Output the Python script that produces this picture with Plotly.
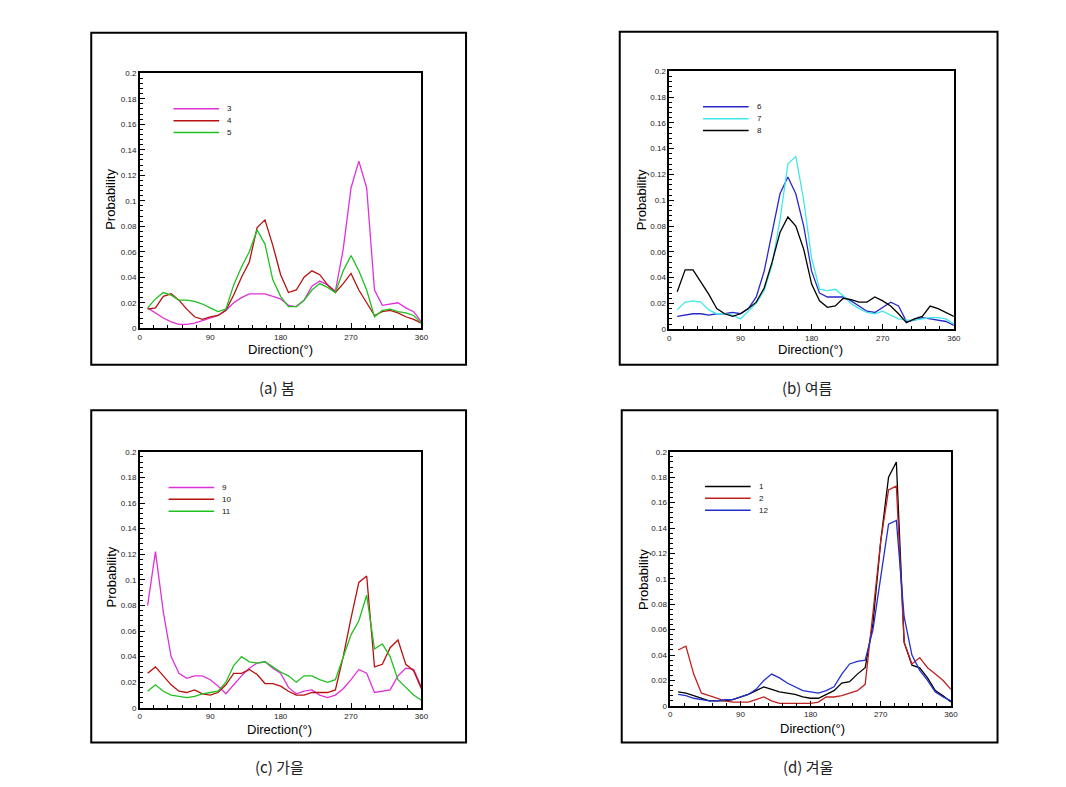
import plotly.graph_objects as go

# ---------------- data ----------------
direction = [10, 20, 30, 40, 50, 60, 70, 80, 90, 100, 110, 120, 130, 140, 150, 160, 170, 180,
             190, 200, 210, 220, 230, 240, 250, 260, 270, 280, 290, 300, 310, 320, 330, 340, 350, 360]

# (a) spring
m3 = [0.016, 0.012, 0.008, 0.005, 0.003, 0.003, 0.004, 0.006, 0.008, 0.010, 0.014, 0.020, 0.024, 0.027, 0.027, 0.027, 0.025, 0.023,
      0.018, 0.017, 0.022, 0.033, 0.037, 0.034, 0.029, 0.062, 0.110, 0.131, 0.110, 0.030, 0.018, 0.019, 0.020, 0.016, 0.013, 0.005]
m4 = [0.015, 0.016, 0.025, 0.027, 0.022, 0.015, 0.009, 0.007, 0.009, 0.010, 0.014, 0.026, 0.040, 0.052, 0.079, 0.085, 0.065, 0.042,
      0.028, 0.030, 0.040, 0.045, 0.042, 0.034, 0.028, 0.035, 0.043, 0.030, 0.020, 0.010, 0.013, 0.014, 0.012, 0.009, 0.007, 0.004]
m5 = [0.016, 0.023, 0.028, 0.026, 0.022, 0.022, 0.021, 0.019, 0.016, 0.013, 0.015, 0.034, 0.048, 0.060, 0.077, 0.066, 0.038, 0.025,
      0.017, 0.017, 0.022, 0.030, 0.035, 0.032, 0.028, 0.045, 0.057, 0.045, 0.030, 0.009, 0.014, 0.015, 0.013, 0.012, 0.010, 0.004]

# (b) summer
m6 = [0.010, 0.011, 0.012, 0.012, 0.011, 0.012, 0.012, 0.013, 0.012, 0.016, 0.025, 0.045, 0.075, 0.105, 0.118, 0.105, 0.080, 0.045,
      0.028, 0.025, 0.025, 0.025, 0.022, 0.018, 0.014, 0.013, 0.017, 0.021, 0.018, 0.006, 0.007, 0.009, 0.008, 0.007, 0.006, 0.003]
m7 = [0.015, 0.021, 0.022, 0.021, 0.015, 0.012, 0.012, 0.011, 0.008, 0.014, 0.020, 0.030, 0.050, 0.085, 0.128, 0.134, 0.100, 0.055,
      0.031, 0.030, 0.031, 0.026, 0.020, 0.016, 0.013, 0.012, 0.014, 0.011, 0.008, 0.007, 0.007, 0.008, 0.009, 0.009, 0.008, 0.004]
m8 = [0.029, 0.046, 0.046, 0.037, 0.027, 0.016, 0.012, 0.010, 0.012, 0.016, 0.021, 0.032, 0.052, 0.075, 0.087, 0.080, 0.062, 0.035,
      0.022, 0.017, 0.018, 0.024, 0.023, 0.021, 0.021, 0.025, 0.022, 0.018, 0.012, 0.005, 0.008, 0.010, 0.018, 0.016, 0.013, 0.010]

# (c) autumn
m9 = [0.080, 0.122, 0.075, 0.040, 0.027, 0.023, 0.025, 0.025, 0.022, 0.017, 0.011, 0.018, 0.025, 0.031, 0.035, 0.036, 0.031, 0.027,
      0.016, 0.011, 0.013, 0.014, 0.010, 0.008, 0.010, 0.015, 0.022, 0.030, 0.027, 0.012, 0.013, 0.014, 0.025, 0.031, 0.030, 0.016]
m10 = [0.027, 0.032, 0.025, 0.018, 0.013, 0.012, 0.014, 0.011, 0.010, 0.012, 0.018, 0.027, 0.027, 0.030, 0.026, 0.019, 0.019, 0.017,
       0.013, 0.010, 0.010, 0.012, 0.012, 0.012, 0.014, 0.040, 0.070, 0.098, 0.103, 0.032, 0.034, 0.047, 0.053, 0.034, 0.029, 0.015]
m11 = [0.013, 0.018, 0.013, 0.010, 0.009, 0.008, 0.009, 0.011, 0.012, 0.013, 0.020, 0.033, 0.040, 0.036, 0.035, 0.036, 0.032, 0.028,
       0.025, 0.020, 0.025, 0.025, 0.022, 0.020, 0.022, 0.040, 0.057, 0.068, 0.088, 0.046, 0.050, 0.040, 0.022, 0.016, 0.010, 0.006]

# (d) winter
m1 = [0.011, 0.010, 0.008, 0.006, 0.004, 0.004, 0.004, 0.005, 0.007, 0.009, 0.012, 0.015, 0.013, 0.011, 0.010, 0.009, 0.007, 0.006,
      0.006, 0.009, 0.012, 0.018, 0.019, 0.025, 0.030, 0.065, 0.130, 0.180, 0.192, 0.050, 0.032, 0.030, 0.022, 0.012, 0.008, 0.003]
m2 = [0.044, 0.047, 0.025, 0.010, 0.008, 0.006, 0.004, 0.003, 0.003, 0.003, 0.005, 0.007, 0.004, 0.002, 0.002, 0.002, 0.002, 0.002,
      0.003, 0.007, 0.007, 0.008, 0.010, 0.012, 0.017, 0.075, 0.130, 0.170, 0.173, 0.050, 0.033, 0.038, 0.030, 0.025, 0.020, 0.013]
m12 = [0.009, 0.008, 0.006, 0.005, 0.004, 0.004, 0.005, 0.005, 0.007, 0.009, 0.013, 0.020, 0.025, 0.022, 0.018, 0.015, 0.012, 0.011,
       0.010, 0.012, 0.015, 0.025, 0.033, 0.035, 0.036, 0.060, 0.100, 0.143, 0.146, 0.070, 0.040, 0.028, 0.020, 0.011, 0.007, 0.004]

x_ticks = [0, 90, 180, 270, 360]
captions = ["(a) 봄", "(b) 여름", "(c) 가을", "(d) 겨울"]
x_title = "Direction(°)"
y_title = "Probability"

panels = [
    (["3", "4", "5"], [m3, m4, m5], ["#E030D8", "#B81010", "#20C020"]),
    (["6", "7", "8"], [m6, m7, m8], ["#2828C8", "#40E8E8", "#000000"]),
    (["9", "10", "11"], [m9, m10, m11], ["#E030D8", "#B81010", "#20C020"]),
    (["1", "2", "12"], [m1, m2, m12], ["#000000", "#C02020", "#2030D0"]),
]

# ---------------- layout geometry (pixels) ----------------
W, H = 1066, 787
plot_px = [(139, 423, 70, 328), (673, 960, 68, 329), (139, 423, 453, 712), (674, 957, 453, 710)]
frame_px = [(90, 468, 29, 365), (623, 1004, 28, 365), (90, 468, 411, 747), (625, 1004, 411, 747)]
caption_px = [(277, 388), (812, 388), (280, 771), (813, 771)]
xtitle_px = [(281, 350), (815, 350), (280, 734), (817, 733)]
ytitle_px = [(110, 198), (645, 198), (110, 580), (647, 582)]
legend_px = [(173, 106), (707, 104), (168, 489), (709, 488)]


def px(xp):
    return xp / W


def py(yp):
    return 1 - yp / H


fig = go.Figure()
shapes, annotations = [], []
tick_font = dict(family="Liberation Sans, Arial, sans-serif", size=8, color="#1a1a1a")
layout_axes = {}

for i, (names, series, colors) in enumerate(panels):
    n = i + 1
    xa = "x" if n == 1 else f"x{n}"
    ya = "y" if n == 1 else f"y{n}"
    for name, vals, col in zip(names, series, colors):
        fig.add_trace(go.Scatter(x=direction, y=vals, mode="lines", name=name,
                                 line=dict(color=col, width=1.3), xaxis=xa, yaxis=ya,
                                 showlegend=False))
    x0, x1, yt, yb = plot_px[i]
    common = dict(showline=True, linecolor="black", linewidth=1.6, mirror=True,
                  showgrid=False, zeroline=False, ticks="inside", ticklen=5,
                  tickcolor="black", tickwidth=1, tickfont=tick_font)
    layout_axes["xaxis" if n == 1 else f"xaxis{n}"] = dict(
        domain=[px(x0), px(x1)], anchor=ya, range=[0, 360], tickvals=x_ticks,
        minor=dict(dtick=18, ticks="inside", ticklen=3, tickcolor="black"), **common)
    layout_axes["yaxis" if n == 1 else f"yaxis{n}"] = dict(
        domain=[py(yb), py(yt)], anchor=xa, range=[0, 0.2], dtick=0.02, tick0=0,
        minor=dict(dtick=0.004, ticks="inside", ticklen=3, tickcolor="black"), **common)

    # outer frame
    fx0, fx1, fy0, fy1 = frame_px[i]
    shapes.append(dict(type="rect", xref="paper", yref="paper", x0=px(fx0), x1=px(fx1),
                       y0=py(fy1), y1=py(fy0), line=dict(color="black", width=2)))
    # caption
    cx, cy = caption_px[i]
    annotations.append(dict(text=captions[i], xref="paper", yref="paper", x=px(cx), y=py(cy),
                            showarrow=False, xanchor="center", yanchor="middle",
                            font=dict(family="Noto Sans CJK KR, sans-serif", size=15, color="#222")))
    # axis titles
    tx, ty = xtitle_px[i]
    annotations.append(dict(text=x_title, xref="paper", yref="paper", x=px(tx), y=py(ty),
                            showarrow=False, xanchor="center", yanchor="middle",
                            font=dict(family="Liberation Sans, Arial, sans-serif", size=13, color="#000")))
    tx, ty = ytitle_px[i]
    annotations.append(dict(text=y_title, xref="paper", yref="paper", x=px(tx), y=py(ty),
                            showarrow=False, xanchor="center", yanchor="middle", textangle=-90,
                            font=dict(family="Liberation Sans, Arial, sans-serif", size=13, color="#000")))
    # legend (manual, drawn from the series names/colours)
    lx, ly = legend_px[i]
    for k, (name, col) in enumerate(zip(names, colors)):
        yy = ly + k * 12
        shapes.append(dict(type="line", xref="paper", yref="paper", x0=px(lx), x1=px(lx + 46),
                           y0=py(yy), y1=py(yy), line=dict(color=col, width=1.5)))
        annotations.append(dict(text=name, xref="paper", yref="paper", x=px(lx + 52), y=py(yy),
                                showarrow=False, xanchor="left", yanchor="middle",
                                font=dict(family="Liberation Sans, Arial, sans-serif", size=8, color="#111")))

fig.update_layout(width=W, height=H, margin=dict(l=0, r=0, t=0, b=0),
                  paper_bgcolor="white", plot_bgcolor="white",
                  shapes=shapes, annotations=annotations, showlegend=False, **layout_axes)

fig.write_html("out.html")
